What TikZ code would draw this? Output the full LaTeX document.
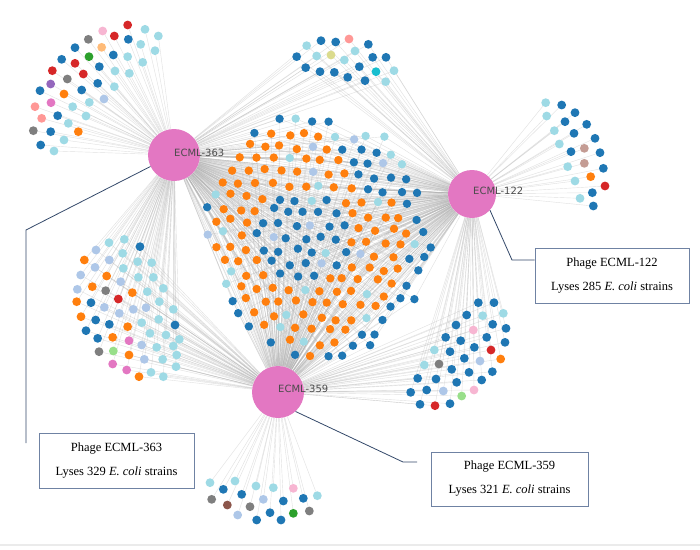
\documentclass[tikz,border=0pt]{standalone}
\usepackage{fontspec}
\setmainfont{Liberation Serif}
\newfontfamily\hubfont{DejaVu Sans}
\usetikzlibrary{backgrounds}
\definecolor{dblue}{HTML}{1F77B4}
\definecolor{lblue}{HTML}{9EDAE5}
\definecolor{lav}{HTML}{AEC7E8}
\definecolor{orng}{HTML}{FF7F0E}
\definecolor{peach}{HTML}{FFBB78}
\definecolor{red}{HTML}{D62728}
\definecolor{salm}{HTML}{FF9896}
\definecolor{grn}{HTML}{2CA02C}
\definecolor{lgrn}{HTML}{98DF8A}
\definecolor{purp}{HTML}{9467BD}
\definecolor{brn}{HTML}{8C564B}
\definecolor{rbrn}{HTML}{C49C94}
\definecolor{pink}{HTML}{E377C2}
\definecolor{lpink}{HTML}{F7B6D2}
\definecolor{gray}{HTML}{7F7F7F}
\definecolor{lolive}{HTML}{DBDB8D}
\definecolor{cyan}{HTML}{17BECF}
\definecolor{hubpink}{HTML}{E377C2}
\definecolor{boxline}{HTML}{6F82A3}
\definecolor{connline}{HTML}{34496A}
\newcommand{\dotfan}[4]{%
  \foreach \zx/\zy/\zc [count=\i] in {#4} {
    \node[dot,fill=\zc] (#1\i) at ({#2+\zx/3},{#3+\zy/3}) {};
  }}
\newcommand{\centralrows}{122/272/340/0/0, 135/252/388/262/328, 148/239/402/242/338, 161/230/411/236/350, 174/222/415/229/355, 187/216/418/221/362, 200/210/420/214/400, 213/204/423/210/412, 226/203/428/210/412, 239/205/433/212/410, 252/208/431/212/405, 265/212/428/215/400, 278/217/423/225/395, 291/222/416/235/385, 304/229/404/240/378, 317/235/393/250/368, 330/242/382/260/356, 343/265/372/278/340, 356/295/345/300/318}
\begin{document}
\begin{tikzpicture}[x=1pt,y=-1pt,
  dot/.style={circle,inner sep=0pt,minimum size=8.8pt,draw=none},
  cdot/.style={circle,inner sep=0pt,minimum size=8.4pt,draw=none},
  edge/.style={draw=black!30,line width=0.4pt,opacity=0.4},
  hub/.style={circle,fill=hubpink,inner sep=0pt,draw=none},
  hublabel/.style={font=\hubfont\fontsize{10}{12}\selectfont,text=black!70,inner sep=0pt,anchor=west},
  infobox/.style={draw=boxline,line width=0.9pt,fill=white,align=center,inner sep=0pt,
    font=\fontsize{12.5}{24}\selectfont,minimum height=55pt},
  conn/.style={draw=connline,line width=0.8pt}]
\useasboundingbox (0,0) rectangle (700,549);
\begin{pgfonlayer}{background}
  \fill[white] (0,0) rectangle (700,549);
\end{pgfonlayer}
% hubs
\node[hub,minimum size=52pt] (h363) at (174,155) {};
\node[hub,minimum size=48pt] (h122) at (472,194) {};
\node[hub,minimum size=52pt] (h359) at (278,392) {};
% fan A (363 only)
\dotfan{fA}{0}{0}{383/75/red, 435/88/lblue, 475/108/lblue, 308/93/lpink, 343/108/red, 385/118/dblue, 422/133/lblue, 465/152/lblue, 265/118/gray, 305/142/peach, 340/165/dblue, 383/170/lblue, 428/187/lblue, 225/143/dblue, 267/170/grn, 298/200/dblue, 345/213/lblue, 388/220/lblue, 185/178/dblue, 225/190/red, 250/222/red, 293/250/dblue, 343/260/lblue, 157/212/red, 202/237/gray, 245/270/dblue, 312/297/lav, 152/252/purp, 192/282/orng, 268/307/lblue, 120/272/dblue, 105/320/salm, 153/308/pink, 218/320/lblue, 258/348/lblue, 125/355/salm, 173/347/dblue, 205/370/lblue, 100/392/gray, 152/395/dblue, 235/395/orng, 122/435/dblue, 192/420/lblue, 162/453/lblue}
% fan B (122 only)
\dotfan{fB}{420}{80}{377/68/lblue, 425/75/dblue, 465/98/dblue, 500/133/dblue, 525/175/dblue, 540/218/dblue, 550/265/dblue, 555/318/red, 520/378/dblue, 380/108/lblue, 435/125/dblue, 403/152/lblue, 462/160/dblue, 418/192/lblue, 453/215/dblue, 493/205/rbrn, 443/260/lblue, 493/250/rbrn, 465/303/lblue, 512/290/orng, 480/355/lblue, 517/338/dblue}
% fan C (359 only)
\dotfan{fC}{190}{360}{60/368/lblue, 100/388/dblue, 135/363/lblue, 65/418/gray, 112/435/brn, 155/403/dblue, 143/465/lav, 180/440/gray, 198/378/lblue, 200/480/dblue, 220/418/lav, 240/458/dblue, 250/383/lblue, 273/480/dblue, 280/423/dblue, 310/385/lpink, 340/415/dblue, 310/460/grn, 358/453/gray, 382/407/lblue}
% fan D (363 and 122)
\dotfan{fD}{250}{20}{213/62/dblue, 257/66/dblue, 297/57/salm, 355/73/dblue, 170/77/lblue, 140/110/dblue, 200/108/lblue, 243/105/lolive, 283/120/lblue, 315/93/lblue, 368/112/dblue, 408/112/dblue, 167/143/dblue, 210/155/dblue, 253/157/dblue, 293/172/dblue, 328/140/dblue, 378/155/cyan, 345/182/dblue, 432/152/lblue, 407/185/lblue}
% fan E (363 and 359)
\dotfan{fE}{60}{220}{147/68/lblue, 193/58/lblue, 240/80/dblue, 108/90/lav, 148/120/lav, 188/100/lblue, 73/120/orng, 233/125/lblue, 275/128/lblue, 105/142/lav, 190/145/lblue, 140/168/orng, 62/165/lav, 235/172/lblue, 280/172/lblue, 182/185/lav, 97/200/orng, 52/208/lav, 137/212/gray, 217/218/orng, 175/237/red, 262/215/lblue, 310/205/lblue, 50/245/orng, 93/248/dblue, 133/262/lav, 178/280/lav, 220/268/lav, 258/263/lav, 298/245/lblue, 340/268/lblue, 63/290/orng, 107/300/dblue, 148/313/dblue, 203/320/orng, 245/308/lblue, 296/298/lblue, 345/315/dblue, 78/332/dblue, 113/355/dblue, 158/352/orng, 207/362/pink, 270/340/lblue, 318/345/lblue, 358/358/lblue, 117/395/gray, 160/393/lgrn, 207/405/orng, 245/375/lav, 290/382/lblue, 340/378/lblue, 158/432/pink, 200/450/pink, 253/418/lav, 308/418/lblue, 350/405/lblue, 237/470/orng, 273/457/lblue, 310/470/lblue, 348/440/lblue}
% fan F (122 and 359)
\dotfan{fF}{380}{290}{295/38/dblue, 342/38/dblue, 260/75/dblue, 308/77/lblue, 370/70/lblue, 228/105/dblue, 280/120/lpink, 338/103/dblue, 378/115/dblue, 197/142/dblue, 242/152/dblue, 320/142/dblue, 375/157/dblue, 163/180/lblue, 210/185/dblue, 283/172/dblue, 333/180/red, 362/207/orng, 133/225/lblue, 177/222/gray, 253/205/dblue, 300/213/lav, 215/238/dblue, 267/247/dblue, 337/245/dblue, 113/265/dblue, 168/267/dblue, 230/277/dblue, 305/270/dblue, 92/307/dblue, 140/300/dblue, 190/303/lav, 282/300/lpink, 245/318/lgrn, 120/343/dblue, 165/347/red, 210/341/dblue}
% central cluster (all three)
\pgfmathsetseed{12345}
\foreach \yy/\xa/\xb/\oa/\ob [count=\rw] in \centralrows {
  \pgfmathtruncatemacro{\off}{mod(\rw,2)*8}
  \pgfmathtruncatemacro{\ks}{ceil((\xa-\off)/16)}
  \pgfmathtruncatemacro{\ke}{floor((\xb-\off)/16)}
  \foreach \k in {\ks,...,\ke} {
    \pgfmathtruncatemacro{\xx}{\k*16+\off}
    \pgfmathtruncatemacro{\inner}{(((\xx-302)/10)^2+((\yy-238)/10)^2<22.1)?1:0}
    \pgfmathtruncatemacro{\band}{and(\xx>=\oa,\xx<=\ob)}
    \pgfmathsetmacro{\rr}{rnd}
    \pgfmathsetmacro{\jx}{\xx+2.4*rand}
    \pgfmathsetmacro{\jy}{\yy+2.4*rand+(\xx-318)*0.06}
    \def\dc{dblue}
    \ifnum\band=1 \ifnum\inner=0 \def\dc{orng}\fi\fi
    \ifdim\rr pt<0.10pt \def\dc{lblue}\else\ifdim\rr pt<0.15pt \def\dc{lav}\fi\fi
    \node[cdot,fill=\dc] (c\rw-\k) at (\jx,\jy) {};
  }
}
% all edges, once, on the background layer
\begin{pgfonlayer}{background}
  \foreach \i in {1,...,44} {\draw[edge] (fA\i) -- (h363);}
  \foreach \i in {1,...,22} {\draw[edge] (fB\i) -- (h122);}
  \foreach \i in {1,...,20} {\draw[edge] (fC\i) -- (h359);}
  \foreach \i in {1,...,21} {\draw[edge] (fD\i) -- (h363); \draw[edge] (fD\i) -- (h122);}
  \foreach \i in {1,...,60} {\draw[edge] (fE\i) -- (h363); \draw[edge] (fE\i) -- (h359);}
  \foreach \i in {1,...,37} {\draw[edge] (fF\i) -- (h122); \draw[edge] (fF\i) -- (h359);}
  \foreach \yy/\xa/\xb/\oa/\ob [count=\rw] in \centralrows {
    \pgfmathtruncatemacro{\off}{mod(\rw,2)*8}
    \pgfmathtruncatemacro{\ks}{ceil((\xa-\off)/16)}
    \pgfmathtruncatemacro{\ke}{floor((\xb-\off)/16)}
    \foreach \k in {\ks,...,\ke} {
      \draw[edge] (c\rw-\k) -- (h363);
      \draw[edge] (c\rw-\k) -- (h122);
      \draw[edge] (c\rw-\k) -- (h359);
    }
  }
\end{pgfonlayer}
% bottom rule
\draw[black!8,line width=1.5pt] (0,545) -- (700,545);
% hub labels
\node[hublabel] (l363) at (174,153) {ECML-363};
\node[hublabel] (l122) at (473,191) {ECML-122};
\node[hublabel] (l359) at (278,389) {ECML-359};
% info boxes
\node[infobox,minimum width=155pt] (b363) at (116.5,460.5) {Phage ECML-363\\Lyses 329 \textit{E. coli} strains};
\node[infobox,minimum width=154pt] (b122) at (612,275.5) {Phage ECML-122\\Lyses 285 \textit{E. coli} strains};
\node[infobox,minimum width=157pt,minimum height=54pt] (b359) at (509.5,479) {Phage ECML-359\\Lyses 321 \textit{E. coli} strains};
% connectors
\coordinate (k363a) at (26,230);
\coordinate (k363b) at (26,443);
\coordinate (k122) at (512,260);
\coordinate (k359a) at (403,462);
\coordinate (k359b) at (417,462);
\draw[conn] (h363.206) -- (k363a) -- (k363b);
\draw[conn] (h122.318) -- (k122) -- (b122.west |- k122);
\draw[conn] (h359.312) -- (k359a) -- (k359b);
\end{tikzpicture}
\end{document}
